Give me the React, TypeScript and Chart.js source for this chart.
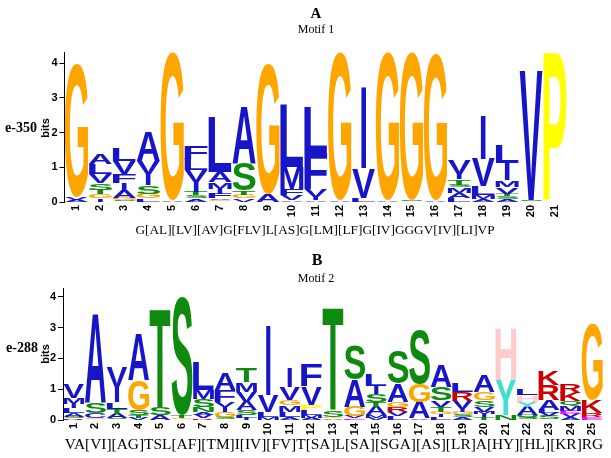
import React, { useEffect, useRef } from "react";
import { Chart, registerables } from "chart.js";
Chart.register(...registerables);

// ---------- Motif 1 (panel A) ----------
const motif1Positions = ["1","2","3","4","5","6","7","8","9","10","11","12","13","14","15","16","17","18","19","20","21"];
// letters listed bottom -> top for each position
const motif1Letters: string[][] = [
  ["A","V","G"],
  ["I","G","T","S","V","L","A"],
  ["S","G","A","I","F","V","L"],
  ["L","G","S","I","V","A"],
  ["A","G"],
  ["A","S","T","I","V","L","F"],
  ["G","V","F","I","M","A","L"],
  ["V","G","T","S","A"],
  ["A","G"],
  ["A","V","F","M","L"],
  ["A","I","V","F","L"],
  ["A","G"],
  ["L","V","I"],
  ["A","G"],
  ["S","G"],
  ["A","G"],
  ["L","A","M","S","T","I","V"],
  ["A","M","L","V","I"],
  ["A","S","T","V","M","I","L"],
  ["S","V"],
  ["P"],
];
const motif1Bits: number[][] = [
  [0.07,0.08,3.85],
  [0.1,0.12,0.13,0.2,0.27,0.28,0.31],
  [0.06,0.06,0.21,0.21,0.27,0.38,0.38],
  [0.1,0.14,0.24,0.33,0.38,0.84],
  [0.05,4.23],
  [0.1,0.09,0.1,0.29,0.34,0.31,0.36],
  [0.05,0.05,0.14,0.14,0.19,0.29,1.58],
  [0.1,0.1,0.12,0.81,1.64],
  [0.24,3.74],
  [0.05,0.15,0.18,0.62,1.8],
  [0.05,0.1,0.2,1.05,1.33],
  [0.05,4.23],
  [0.12,0.86,2.36],
  [0.05,4.23],
  [0.05,4.23],
  [0.06,4.22],
  [0.12,0.15,0.15,0.08,0.15,0.17,0.4],
  [0.1,0.1,0.25,0.8,1.28],
  [0.08,0.08,0.08,0.19,0.2,0.49,0.5],
  [0.06,3.71],
  [4.28],
];

// ---------- Motif 2 (panel B) ----------
const motif2Positions = ["1","2","3","4","5","6","7","8","9","10","11","12","13","14","15","16","17","18","19","20","21","22","23","24","25"];
const motif2Letters: string[][] = [
  ["R","S","A","L","I","M","V"],
  ["G","C","S","A"],
  ["S","A","T","L","I","V"],
  ["V","T","S","G","A"],
  ["A","S","T"],
  ["G","T","S"],
  ["R","V","A","N","S","M","L"],
  ["S","G","I","V","F","A"],
  ["I","L","S","A","V","M","T"],
  ["M","L","V","I"],
  ["A","L","M","G","V","I"],
  ["A","M","L","P","V","F"],
  ["A","G","S","T"],
  ["E","V","G","A","S"],
  ["V","M","A","T","S","I","L"],
  ["L","V","R","G","A","S"],
  ["V","A","G","S"],
  ["L","I","G","T","V","S","A"],
  ["A","S","G","I","V","R","L"],
  ["T","I","M","V","S","G","A"],
  ["N","Y","H"],
  ["S","Q","A","Y","H","L"],
  ["S","V","L","A","R","K"],
  ["A","V","E","M","Q","K","R"],
  ["E","R","K","G"],
];
const motif2Bits: number[][] = [
  [0.05,0.06,0.12,0.16,0.13,0.2,0.47],
  [0.05,0.17,0.32,2.89],
  [0.05,0.16,0.16,0.21,0.49,0.66],
  [0.08,0.08,0.16,0.98,1.51],
  [0.16,0.27,3.21],
  [0.06,0.1,3.84],
  [0.06,0.1,0.1,0.16,0.27,0.27,0.92],
  [0.1,0.16,0.16,0.16,0.38,0.54],
  [0.08,0.08,0.16,0.27,0.33,0.3,0.46],
  [0.1,0.17,0.54,2.29],
  [0.1,0.17,0.22,0.16,0.43,0.62],
  [0.08,0.08,0.16,0.17,0.59,0.73],
  [0.05,0.05,0.22,3.33],
  [0.05,0.06,0.32,0.87,1.1],
  [0.08,0.08,0.27,0.16,0.25,0.26,0.39],
  [0.14,0.13,0.16,0.16,0.6,1.08],
  [0.05,0.54,0.6,1.73],
  [0.1,0.1,0.07,0.16,0.22,0.43,0.7],
  [0.1,0.08,0.08,0.1,0.27,0.27,0.27],
  [0.1,0.1,0.07,0.16,0.22,0.27,0.54],
  [0.16,1.14,1.67],
  [0.08,0.08,0.27,0.16,0.22,0.22],
  [0.12,0.1,0.1,0.32,0.49,0.48],
  [0.1,0.1,0.1,0.16,0.16,0.27,0.27],
  [0.1,0.12,0.43,2.49],
];

const yTicks = [0, 1, 2, 3, 4];

const COLORS: Record<string, string> = {
  A: "#1616C8", C: "#1616C8", F: "#1616C8", I: "#1616C8", L: "#1616C8",
  V: "#1616C8", W: "#1616C8", M: "#1616C8",
  N: "#0E8A0E", Q: "#0E8A0E", S: "#0E8A0E", T: "#0E8A0E",
  D: "#FF00FF", E: "#FF00FF",
  K: "#CC0000", R: "#CC0000",
  H: "#FFCCCC", G: "#FFA500", P: "#FFFF00", Y: "#40E0D0",
};

const SANS = "'Liberation Sans', Arial, sans-serif";
const SERIF = "'Liberation Serif', 'Times New Roman', serif";

function drawGlyph(ctx: CanvasRenderingContext2D, ch: string, cx: number, top: number, w: number, h: number, color: string) {
  ctx.save();
  ctx.font = `bold 100px ${SANS}`;
  ctx.textAlign = "left";
  ctx.textBaseline = "alphabetic";
  const m = ctx.measureText(ch);
  const gw = m.actualBoundingBoxLeft + m.actualBoundingBoxRight;
  const gh = m.actualBoundingBoxAscent + m.actualBoundingBoxDescent;
  const tw = ch === "I" ? w * 0.22 : w;
  ctx.translate(cx - tw / 2, top);
  ctx.scale(tw / gw, h / gh);
  ctx.fillStyle = color;
  ctx.fillText(ch, m.actualBoundingBoxLeft, m.actualBoundingBoxAscent);
  ctx.restore();
}

const letterPlugin = {
  id: "logoLetters",
  afterDatasetsDraw(chart: any) {
    const ctx = chart.ctx as CanvasRenderingContext2D;
    chart.data.datasets.forEach((ds: any, i: number) => {
      const meta = chart.getDatasetMeta(i);
      meta.data.forEach((el: any, j: number) => {
        const ch = ds.letters[j];
        if (!ch) return;
        const p = el.getProps(["x", "y", "base", "width"], true);
        const top = Math.min(p.y, p.base);
        const h = Math.abs(p.base - p.y);
        if (h < 0.4) return;
        drawGlyph(ctx, ch, p.x, top, p.width, h, COLORS[ch] || "#000");
      });
    });
  },
};

function buildDatasets(letters: string[][], bits: number[][]) {
  const depth = Math.max(...letters.map((c) => c.length));
  const out: any[] = [];
  for (let k = 0; k < depth; k++) {
    out.push({
      label: `layer ${k + 1}`,
      data: bits.map((c) => (c[k] ?? 0)),
      letters: letters.map((c) => c[k] ?? ""),
      backgroundColor: "rgba(0,0,0,0)",
      borderWidth: 0,
      stack: "logo",
      barPercentage: 0.97,
      categoryPercentage: 1,
    });
  }
  return out;
}

type LogoProps = {
  positions: string[];
  letters: string[][];
  bits: number[][];
  yMax: number;
  top: number;
  height: number;
  padTop: number;
  padRight: number;
  axisW: number;
  xAxisH: number;
};

function LogoChart(props: LogoProps) {
  const ref = useRef<HTMLCanvasElement | null>(null);
  useEffect(() => {
    if (!ref.current) return;
    const chart = new Chart(ref.current, {
      type: "bar",
      data: { labels: props.positions, datasets: buildDatasets(props.letters, props.bits) },
      options: {
        animation: false,
        responsive: false,
        layout: { padding: { left: 0, right: props.padRight, top: props.padTop, bottom: 0 } },
        plugins: { legend: { display: false }, tooltip: { enabled: false }, title: { display: false } },
        scales: {
          x: {
            stacked: true,
            grid: { display: false, drawTicks: false },
            border: { display: false },
            ticks: {
              autoSkip: false, minRotation: 90, maxRotation: 90, padding: 3, color: "#000",
              font: { family: SANS, weight: "bold", size: 11 },
            },
            afterFit: (s: any) => { s.height = props.xAxisH; },
          },
          y: {
            stacked: true,
            min: 0,
            max: props.yMax,
            afterBuildTicks: (s: any) => { s.ticks = yTicks.map((v) => ({ value: v })); },
            grid: { drawOnChartArea: false, drawTicks: true, tickLength: 5, color: "#000" },
            border: { display: true, color: "#000", width: 1 },
            ticks: { padding: 2, color: "#000", font: { family: SANS, weight: "bold", size: 11 } },
            afterFit: (s: any) => { s.width = props.axisW; },
          },
        },
      } as any,
      plugins: [letterPlugin],
    });
    return () => chart.destroy();
  }, []);
  return (
    <canvas
      ref={ref}
      width={611}
      height={props.height}
      style={{ position: "absolute", left: 0, top: props.top, width: 611, height: props.height, display: "block" }}
    />
  );
}

function Txt(p: { x: number; y: number; font: string; rotate?: boolean; children: React.ReactNode }) {
  return (
    <div
      style={{
        position: "absolute", left: p.x, top: p.y, whiteSpace: "nowrap", font: p.font, color: "#000",
        lineHeight: 1, transform: `translate(-50%,-50%)${p.rotate ? " rotate(-90deg)" : ""}`,
      }}
    >
      {p.children}
    </div>
  );
}

export default function App() {
  return (
    <div style={{ position: "fixed", left: 0, top: 0, width: 611, height: 458, background: "#fff", overflow: "hidden" }}>
      <LogoChart positions={motif1Positions} letters={motif1Letters} bits={motif1Bits} yMax={4.3}
        top={0} height={240} padTop={52.6} padRight={44} axisW={64.5} xAxisH={38} />
      <LogoChart positions={motif2Positions} letters={motif2Letters} bits={motif2Bits} yMax={4.27}
        top={240} height={218} padTop={48.4} padRight={8} axisW={63} xAxisH={38} />

      <Txt x={316} y={13} font={`bold 15px ${SERIF}`}>A</Txt>
      <Txt x={316} y={29} font={`12px ${SERIF}`}>Motif 1</Txt>
      <Txt x={21} y={128} font={`bold 14px ${SERIF}`}>e-350</Txt>
      <Txt x={45} y={128} font={`bold 11px ${SANS}`} rotate>bits</Txt>
      <Txt x={315} y={230} font={`13.3px ${SERIF}`}>G[AL][LV][AV]G[FLV]L[AS]G[LM][LF]G[IV]GGGV[IV][LI]VP</Txt>

      <Txt x={317} y={260} font={`bold 16px ${SERIF}`}>B</Txt>
      <Txt x={316} y={277.5} font={`12px ${SERIF}`}>Motif 2</Txt>
      <Txt x={22} y={348} font={`bold 14px ${SERIF}`}>e-288</Txt>
      <Txt x={45} y={354} font={`bold 11px ${SANS}`} rotate>bits</Txt>
      <Txt x={334} y={444} font={`15.4px ${SERIF}`}>VA[VI][AG]TSL[AF][TM]I[IV][FV]T[SA]L[SA][SGA][AS][LR]A[HY][HL][KR]RG</Txt>
    </div>
  );
}
